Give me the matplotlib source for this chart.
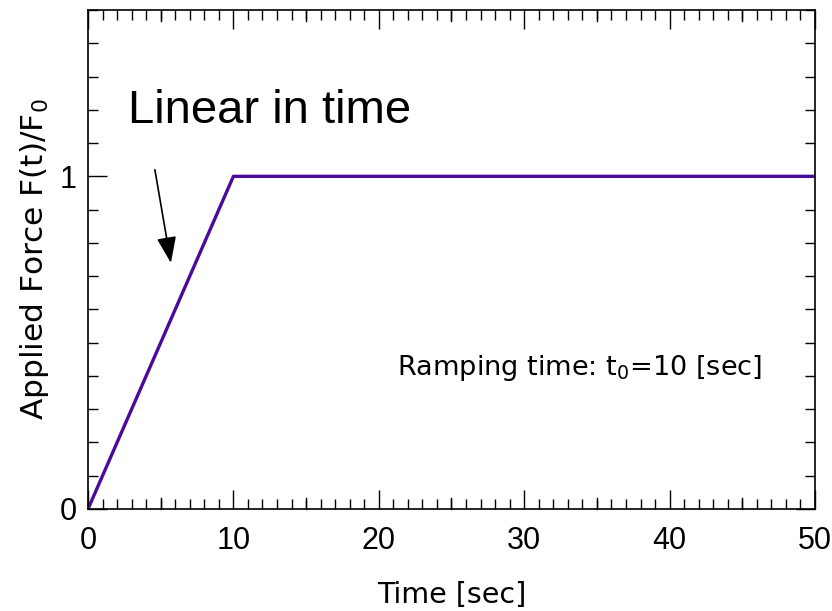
import matplotlib
matplotlib.use("Agg")
import matplotlib.pyplot as plt
from matplotlib.ticker import MultipleLocator, FixedLocator

# Ramp loading: force grows linearly up to t0, then holds constant
time_s = [0, 10, 50]
force_ratio = [0, 1, 1]

xticks = [0, 10, 20, 30, 40, 50]
yticks = [0, 1]

line_color = "#4a0a9c"
label_font = ["DejaVu Sans"]
tick_font = "Liberation Sans"
plt.rcParams["mathtext.fontset"] = "dejavusans"

fig = plt.figure(figsize=(8.32, 6.11), dpi=100)
ax = fig.add_axes([88 / 832, 1 - 509 / 611, (815 - 88) / 832, (509 - 10) / 611])

ax.plot(time_s, force_ratio, color=line_color, lw=2.4, solid_capstyle="round")

ax.set_xlim(0, 50)
ax.set_ylim(0, 1.5)

ax.xaxis.set_major_locator(FixedLocator(xticks))
ax.xaxis.set_minor_locator(MultipleLocator(1))
ax.yaxis.set_major_locator(FixedLocator(yticks))
ax.yaxis.set_minor_locator(MultipleLocator(0.1))

ax.tick_params(which="both", direction="in", top=True, right=True, width=1.0, color="black")
ax.tick_params(which="major", length=14)
ax.tick_params(axis="x", which="major", pad=12)
ax.tick_params(axis="y", which="major", pad=8)
ax.tick_params(which="minor", length=7)
for lab in ax.get_xticklabels() + ax.get_yticklabels():
    lab.set_fontfamily(tick_font)
    lab.set_fontsize(22)

# medium ticks at every 5 s on bottom and top
for x in [5, 15, 25, 35, 45]:
    for y0, y1 in [(0, 0.033), (1.5, 1.467)]:
        ax.plot([x, x], [y0, y1], color="black", lw=1.0, clip_on=False, zorder=1)

for sp in ax.spines.values():
    sp.set_linewidth(1.2)

ax.set_xlabel("Time [sec]", family=label_font, fontsize=20.5, labelpad=18)
ax.set_ylabel("Applied Force F(t)/F$_0$", family=label_font, fontsize=22.5, labelpad=6)

ax.text(2.75, 1.16, "Linear in time", family="Liberation Sans", fontsize=34,
        ha="left", va="baseline")
ax.annotate("", xy=(5.7, 0.74), xytext=(4.6, 1.02),
            arrowprops=dict(arrowstyle="-|>,head_length=1.6,head_width=0.6",
                            color="black", lw=1.2, shrinkA=0, shrinkB=0))

ax.text(33.8, 0.425, "Ramping time: t$_0$=10 [sec]", family=label_font, fontsize=19.5,
        ha="center", va="center")

fig.savefig("out.png", dpi=100)
